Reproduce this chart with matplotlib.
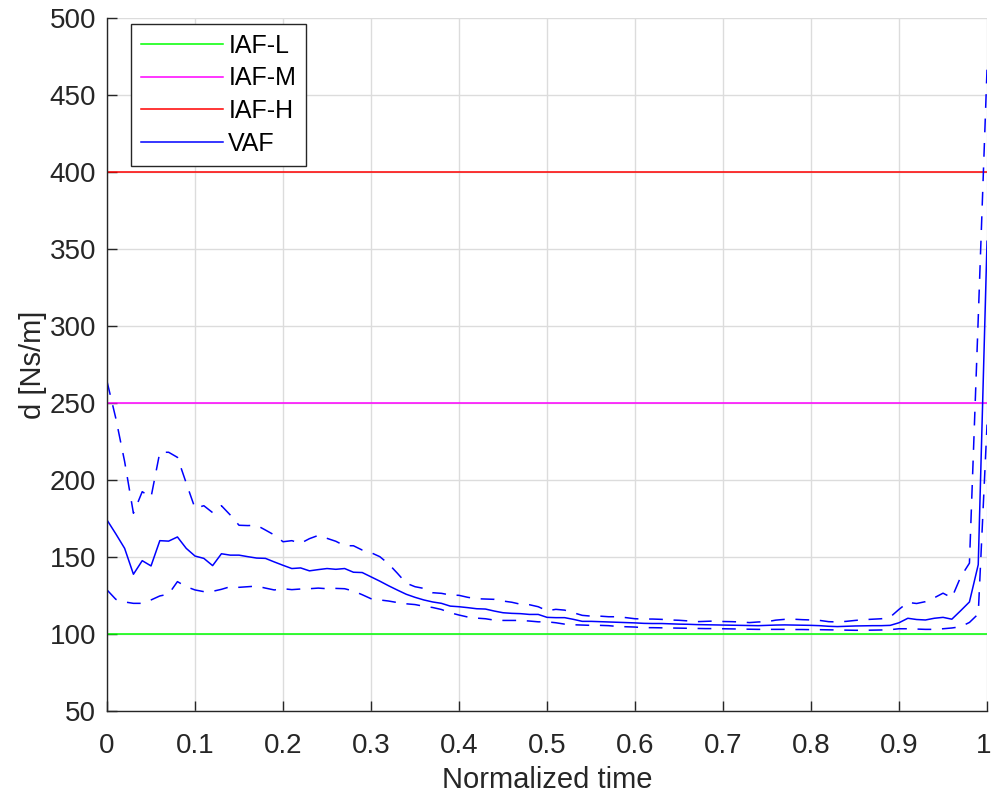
import numpy as np
import matplotlib.pyplot as plt
import matplotlib.transforms as mtransforms

plt.rcParams['font.family'] = ['Liberation Sans', 'DejaVu Sans']

# normalized time, 101 samples
t = np.arange(101) / 100

# VAF damping: mean and bounds [Ns/m]
vaf_mean = [
    174, 165, 155.6, 138.8, 147.6, 144.2, 160.6, 160.3, 163, 155.6,
    150.6, 149.1, 144.4, 152.1, 151.2, 151.2, 150.2, 149.3, 149.1, 146.8,
    144.6, 142.5, 142.9, 141, 141.8, 142.5, 142, 142.5, 140.1, 139.9,
    137.1, 134.3, 131.3, 128.5, 125.8, 123.8,
    122.1, 120.8, 119.9, 118.1, 117.7, 117.1, 116.4, 116.2, 114.9, 113.8,
    113.4, 113.2, 112.7, 112.7, 110.8, 110.6, 110.6, 109.5, 108.2, 108.2,
    108.0, 107.8, 107.6, 107.4, 107.2, 106.9, 106.8,
    106.8, 106.6, 106.4, 106.3, 106.1, 106.0, 105.9, 105.8, 105.7, 105.6,
    105.5, 105.4, 105.6, 105.8, 105.9, 105.8, 105.7, 105.6, 105.4, 105.0,
    104.8, 105.0, 105.2, 105.3, 105.4, 105.4, 105.6,
    107.3, 110.2, 109.4, 109.1, 110.2, 110.8, 109.6, 115.1, 120.8, 145.0, 355.0,
]
vaf_upper = [
    264, 240, 212, 178.4, 192.4, 188.8, 218, 218, 214.7, 198,
    181.6, 183.3, 178.8, 183.3, 177.3, 170.6, 170.4, 170.6, 167.5, 164.3,
    159.9, 160.6, 158.9, 161.9, 164, 162.1, 160.2, 157.3, 157.3, 154.5,
    152.8, 150.2, 145.5, 139.4, 133, 130.7,
    129.6, 126.8, 126.4, 125.3, 125.1, 123.8, 122.9, 122.7, 122.5, 121.4,
    120.6, 119.3, 119.0, 117.7, 115.1, 116.0, 115.5, 113.8, 112.1, 111.6,
    111.6, 111.2, 111.2, 110.6, 109.9, 109.7, 109.7,
    109.5, 109.1, 108.9, 108.5, 108.0, 108.2, 108.4, 108.1, 108.0, 107.8,
    107.4, 107.8, 108.0, 109.0, 109.5, 109.6, 109.3, 109.1, 108.8, 108.0,
    107.8, 108.2, 108.8, 109.3, 109.6, 109.9, 111.0,
    116.0, 120.5, 119.8, 121.0, 123.5, 126.5, 123.5, 137.0, 146.0, 305.0, 467.0,
]
vaf_lower = [
    128.6, 122.5, 120.8, 119.9, 119.9, 122.1, 124.7, 125.9, 134, 130.7,
    128.6, 127.5, 127.7, 129, 130.7, 130.3, 130.7, 131.1, 129.8, 128.6,
    129.4, 128.8, 129.2, 129.4, 129.8, 129.4, 129.6, 129.4, 127.9, 125.5,
    122.9, 122.1, 121.4, 120.4, 119.6, 119.1,
    118.0, 117.2, 115.9, 113.8, 112.3, 111.0, 110.3, 109.9, 109.0, 108.8,
    108.8, 108.8, 108.4, 107.9, 107.9, 107.3, 106.4, 106.0, 105.8, 105.6,
    105.6, 105.4, 104.9, 104.7, 104.5, 104.1, 104.1,
    104.0, 103.9, 103.8, 103.7, 103.6, 103.5, 103.5, 103.4, 103.3, 103.2,
    103.1, 103.0, 103.0, 103.0, 103.0, 102.9, 102.9, 102.8, 102.8, 102.7,
    102.6, 102.5, 102.4, 102.4, 102.5, 102.6, 102.8,
    103.4, 103.4, 103.2, 103.0, 103.0, 103.4, 103.9, 104.7, 107.5, 113.0, 236.0,
]

# constant damping levels of the IAF variants
iaf_labels = ['IAF-L', 'IAF-M', 'IAF-H']
iaf_values = [100, 250, 400]
iaf_colors = ['#00ff00', '#ff00ff', '#ff0000']

xtick_labels = ['0', '0.1', '0.2', '0.3', '0.4', '0.5', '0.6', '0.7', '0.8', '0.9', '1']

fig = plt.figure(figsize=(9.91, 7.96), dpi=100)
ax = fig.add_axes([0.108, 0.1068, 0.888, 0.8706])

for lab, val, col in zip(iaf_labels, iaf_values, iaf_colors):
    ax.plot([t[0], t[-1]], [val, val], color=col, lw=1.1, label=lab)

ax.plot(t, vaf_mean, color='#0000ff', lw=1.1, label='VAF')
ax.plot(t, vaf_upper, color='#0000ff', lw=1.1, dashes=(9, 7))
ax.plot(t, vaf_lower, color='#0000ff', lw=1.1, dashes=(9, 7))

ax.set_xlim(0, 1)
ax.set_ylim(50, 500)
ax.set_xticks(np.arange(0, 1.01, 0.1))
ax.set_xticklabels(xtick_labels)
ax.set_yticks(np.arange(50, 501, 50))

ax.grid(True, color='#dcdcdc', lw=1.0)
ax.set_axisbelow(True)
for s in ['top', 'right']:
    ax.spines[s].set_visible(False)
for s in ['left', 'bottom']:
    ax.spines[s].set_color('#262626')
    ax.spines[s].set_linewidth(1.0)
ax.tick_params(direction='in', length=7, width=1.0, colors='#262626',
               labelsize=20)
ax.tick_params(axis='x', pad=16)
ax.tick_params(axis='y', pad=8)

# keep the last x tick label inside the figure
last = ax.get_xticklabels()[-1]
last.set_transform(last.get_transform() +
                   mtransforms.ScaledTranslation(-3 / 100, 0, fig.dpi_scale_trans))

ax.set_xlabel('Normalized time', fontsize=21, color='#262626', labelpad=5)
ax.set_ylabel('d [Ns/m]', fontsize=21, color='#262626', labelpad=2)

leg = ax.legend(loc='upper left', bbox_to_anchor=(0.027, 0.992), fontsize=18,
                frameon=True, fancybox=False, handlelength=3.3,
                handletextpad=0.2, labelspacing=0.35, borderpad=0.4,
                borderaxespad=0)
leg.get_frame().set_edgecolor('#262626')
leg.get_frame().set_linewidth(1.0)
leg.get_frame().set_alpha(1.0)

fig.savefig('out.png', dpi=100)
